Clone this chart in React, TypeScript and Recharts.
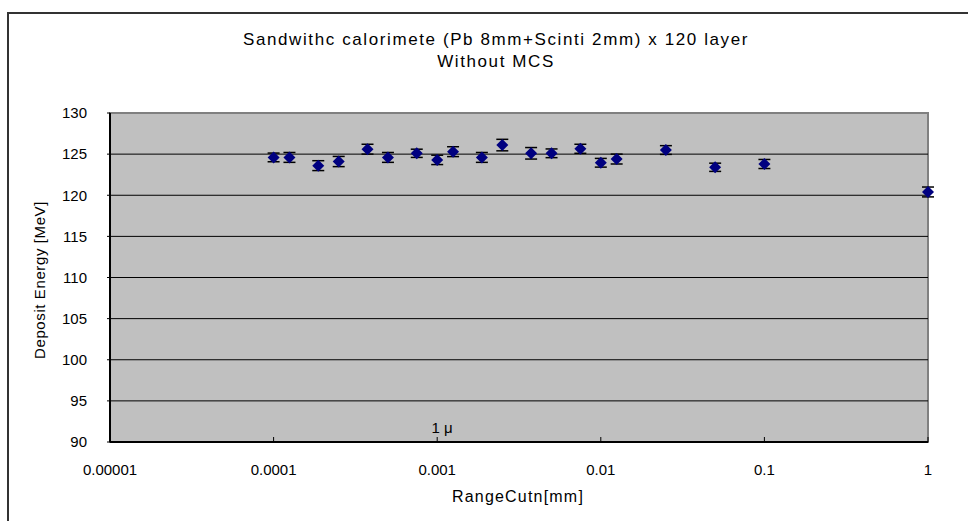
import React from 'react';
import {
  ScatterChart,
  Scatter,
  XAxis,
  YAxis,
  ErrorBar,
  ReferenceArea,
  ReferenceLine,
  ReferenceDot,
} from 'recharts';

const rangeCut = [
  0.0001, 0.000125, 0.0001875, 0.00025, 0.000375, 0.0005, 0.00075, 0.001, 0.00125, 0.001875,
  0.0025, 0.00375, 0.005, 0.0075, 0.01, 0.0125, 0.025, 0.05, 0.1, 1,
];
const energy = [
  124.6, 124.6, 123.6, 124.1, 125.6, 124.6, 125.1, 124.3, 125.3, 124.6,
  126.1, 125.1, 125.1, 125.65, 123.95, 124.4, 125.5, 123.4, 123.8, 120.4,
];
const energyErr = [
  0.53, 0.6, 0.6, 0.62, 0.6, 0.6, 0.5, 0.57, 0.6, 0.6,
  0.7, 0.7, 0.53, 0.55, 0.53, 0.6, 0.53, 0.5, 0.55, 0.6,
];
const xTicks = [0.00001, 0.0001, 0.001, 0.01, 0.1, 1];
const xTickLabels = ['0.00001', '0.0001', '0.001', '0.01', '0.1', '1'];
const yTicks = [90, 95, 100, 105, 110, 115, 120, 125, 130];
const gridLines = [95, 100, 105, 110, 115, 120, 125];

const data = rangeCut.map((x, i) => ({ x, y: energy[i], err: energyErr[i] }));

const font = '"Liberation Sans", Arial, sans-serif';

const Diamond = (props: any) => {
  const { cx, cy } = props;
  if (cx == null || cy == null) return null;
  return (
    <polygon
      points={`${cx},${cy - 6} ${cx + 6},${cy} ${cx},${cy + 6} ${cx - 6},${cy}`}
      fill="#000080"
    />
  );
};

export default function App() {
  return (
    <div style={{ position: 'absolute', left: 0, top: 0, width: 968, height: 521, background: '#fff', overflow: 'hidden' }}>
      <div
        style={{
          position: 'absolute',
          left: 7,
          top: 12,
          width: 990,
          height: 540,
          border: '2px solid #333',
        }}
      />
      <div
        style={{
          position: 'absolute',
          left: 0,
          top: 29,
          width: 992,
          textAlign: 'center',
          fontFamily: font,
          fontSize: 17,
          letterSpacing: 1.6,
          lineHeight: '22px',
          color: '#000',
        }}
      >
        <div>Sandwithc calorimete (Pb 8mm+Scinti 2mm) x 120 layer</div>
        <div>Without MCS</div>
      </div>
      <div
        style={{
          position: 'absolute',
          left: 39,
          top: 280,
          transform: 'translate(-50%, -50%) rotate(-90deg)',
          whiteSpace: 'nowrap',
          fontFamily: font,
          fontSize: 15,
          letterSpacing: 0.6,
          color: '#000',
        }}
      >
        Deposit Energy [MeV]
      </div>
      <div
        style={{
          position: 'absolute',
          left: 518,
          top: 497,
          transform: 'translate(-50%, -50%)',
          whiteSpace: 'nowrap',
          fontFamily: font,
          fontSize: 16,
          letterSpacing: 1.2,
          color: '#000',
        }}
      >
        RangeCutn[mm]
      </div>
      <div style={{ position: 'absolute', left: 0, top: 0 }}>
        <ScatterChart width={968} height={521} margin={{ top: 113, right: 40, bottom: 49, left: 50 }}>
          <XAxis
            type="number"
            dataKey="x"
            scale="log"
            domain={[0.00001, 1]}
            ticks={xTicks}
            height={30}
            axisLine={{ stroke: '#000', strokeWidth: 2 }}
            tickLine={{ stroke: '#000' }}
            tickSize={-5}
            tickMargin={27}
            tickFormatter={(v: number) => xTickLabels[xTicks.indexOf(v)] ?? String(v)}
            tick={{ fill: '#000', fontSize: 15, fontFamily: font }}
          />
          <YAxis
            type="number"
            dataKey="y"
            domain={[90, 130]}
            ticks={yTicks}
            width={60}
            axisLine={{ stroke: '#000', strokeWidth: 2 }}
            tickLine={{ stroke: '#000' }}
            tickSize={3}
            tickMargin={20}
            tick={{ fill: '#000', fontSize: 15, fontFamily: font }}
          />
          <ReferenceArea
            x1={0.00001}
            x2={1}
            y1={90}
            y2={130}
            fill="#C0C0C0"
            fillOpacity={1}
            stroke="#808080"
            strokeWidth={2}
          />
          {gridLines.map((g) => (
            <ReferenceLine key={g} y={g} stroke="#000" strokeWidth={1} />
          ))}
          <ReferenceDot
            x={0.001}
            y={91.8}
            r={0}
            fill="none"
            stroke="none"
            label={{ value: '1 μ', position: 'center', dx: 5, fill: '#000', fontSize: 15, fontFamily: font }}
          />
          <Scatter data={data} shape={<Diamond />} isAnimationActive={false}>
            <ErrorBar dataKey="err" direction="y" width={6} stroke="#000" strokeWidth={1.5} />
          </Scatter>
        </ScatterChart>
      </div>
    </div>
  );
}
